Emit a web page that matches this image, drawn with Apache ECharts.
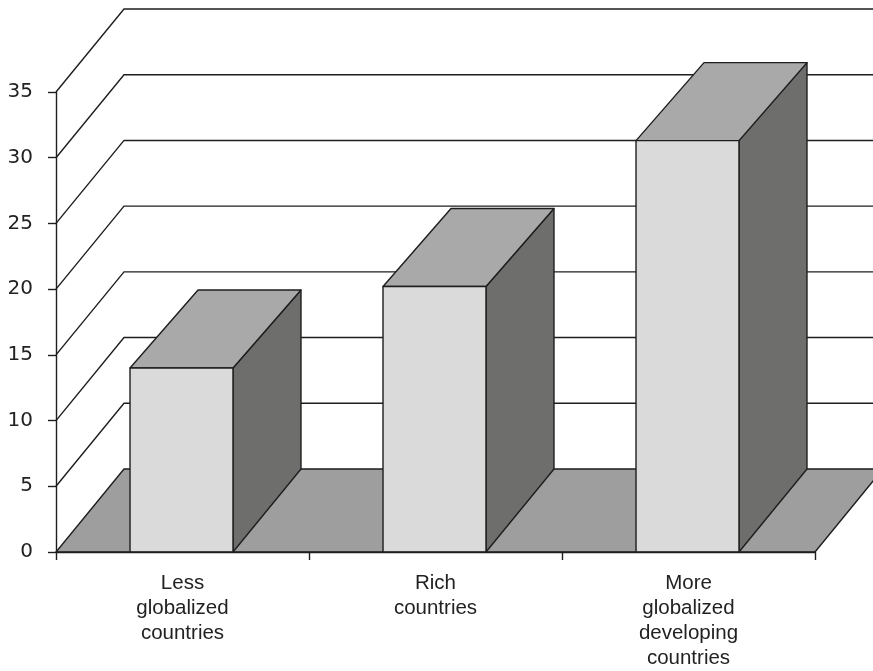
<!DOCTYPE html>
<html>
<head>
<meta charset="utf-8">
<script src="https://cdn.jsdelivr.net/npm/echarts@6/dist/echarts.min.js"></script>
<style>
  html, body { margin: 0; padding: 0; background: #ffffff; }
  #chart { width: 873px; height: 671px; }
</style>
</head>
<body>
<div id="chart"></div>
<script>
// Categories and values
const categories = ['Less\nglobalized\ncountries', 'Rich\ncountries', 'More\nglobalized\ndeveloping\ncountries'];
const values = [14, 20.2, 31.3];
const yTicks = [0, 5, 10, 15, 20, 25, 30, 35];

// 3D look: depth offsets of the box and of the floor/back wall
const DEPTH_DX = 68;
const FLOOR_DY = 83;
const TOP_DY = 78;
const LINE = '#1e1e1e';
const LW = 1.4;

const chart = echarts.init(document.getElementById('chart'));

// Floor (value 0) and the back-wall gridlines with their diagonal returns
function wallItem(params, api) {
  const v = api.value(0);
  const cs = params.coordSys;
  const left = cs.x, right = cs.x + cs.width;
  const y = api.coord([0, v])[1];
  if (v === 0) {
    return {
      type: 'polygon',
      z2: 0,
      shape: { points: [[left, y], [right, y], [right + DEPTH_DX, y - FLOOR_DY], [left + DEPTH_DX, y - FLOOR_DY]] },
      style: { fill: '#9e9e9e', stroke: LINE, lineWidth: LW }
    };
  }
  return {
    type: 'polyline',
    z2: 1,
    shape: { points: [[left, y], [left + DEPTH_DX, y - FLOOR_DY], [right + DEPTH_DX + 20, y - FLOOR_DY]] },
    style: { fill: null, stroke: LINE, lineWidth: LW }
  };
}

// Box-shaped bar: side face, top face, then the front face
function barItem(params, api) {
  const idx = api.value(0);
  const v = api.value(1);
  const top = api.coord([idx, v]);
  const base = api.coord([idx, 0]);
  const band = api.size([1, 0])[0];
  const w = band * 0.407;
  const x0 = top[0] - w / 2 - 1;
  const x1 = x0 + w;
  const yT = top[1], yB = base[1];
  const st = { stroke: LINE, lineWidth: LW, lineJoin: 'round' };
  return {
    type: 'group',
    children: [
      { type: 'polygon', shape: { points: [[x1, yB], [x1, yT], [x1 + DEPTH_DX, yT - TOP_DY], [x1 + DEPTH_DX, yB - FLOOR_DY]] },
        style: Object.assign({ fill: '#6e6e6c' }, st) },
      { type: 'polygon', shape: { points: [[x0, yT], [x1, yT], [x1 + DEPTH_DX, yT - TOP_DY], [x0 + DEPTH_DX, yT - TOP_DY]] },
        style: Object.assign({ fill: '#a8a9a8' }, st) },
      { type: 'rect', shape: { x: x0, y: yT, width: w, height: yB - yT },
        style: Object.assign({ fill: '#dadada' }, st) }
    ]
  };
}

chart.setOption({
  animation: false,
  backgroundColor: '#ffffff',
  grid: { left: 56, right: 58, top: 92, bottom: 116, containLabel: false },
  xAxis: {
    type: 'category',
    data: categories,
    boundaryGap: true,
    axisLine: { show: true, lineStyle: { color: LINE, width: LW } },
    axisTick: { show: true, length: 8, lineStyle: { color: LINE, width: LW } },
    axisLabel: { interval: 0, margin: 19, fontFamily: 'Liberation Sans', fontSize: 20.5, lineHeight: 25, color: '#222' },
    splitLine: { show: false },
    z: 5
  },
  yAxis: {
    type: 'value',
    min: 0, max: 35, interval: 5,
    axisLine: { show: true, lineStyle: { color: LINE, width: LW } },
    axisTick: { show: true, length: 8, lineStyle: { color: LINE, width: LW } },
    axisLabel: { margin: 23, fontFamily: 'DejaVu Sans', fontSize: 20, color: '#222' },
    splitLine: { show: false },
    z: 5
  },
  series: [
    {
      type: 'custom',
      name: 'wall',
      clip: false,
      silent: true,
      z: 1,
      renderItem: wallItem,
      data: yTicks.map(v => [v]),
      encode: { y: 0 }
    },
    {
      type: 'custom',
      name: 'bars',
      clip: false,
      z: 3,
      renderItem: barItem,
      data: values.map((v, i) => [i, v]),
      encode: { x: 0, y: 1 }
    }
  ]
});
</script>
</body>
</html>
